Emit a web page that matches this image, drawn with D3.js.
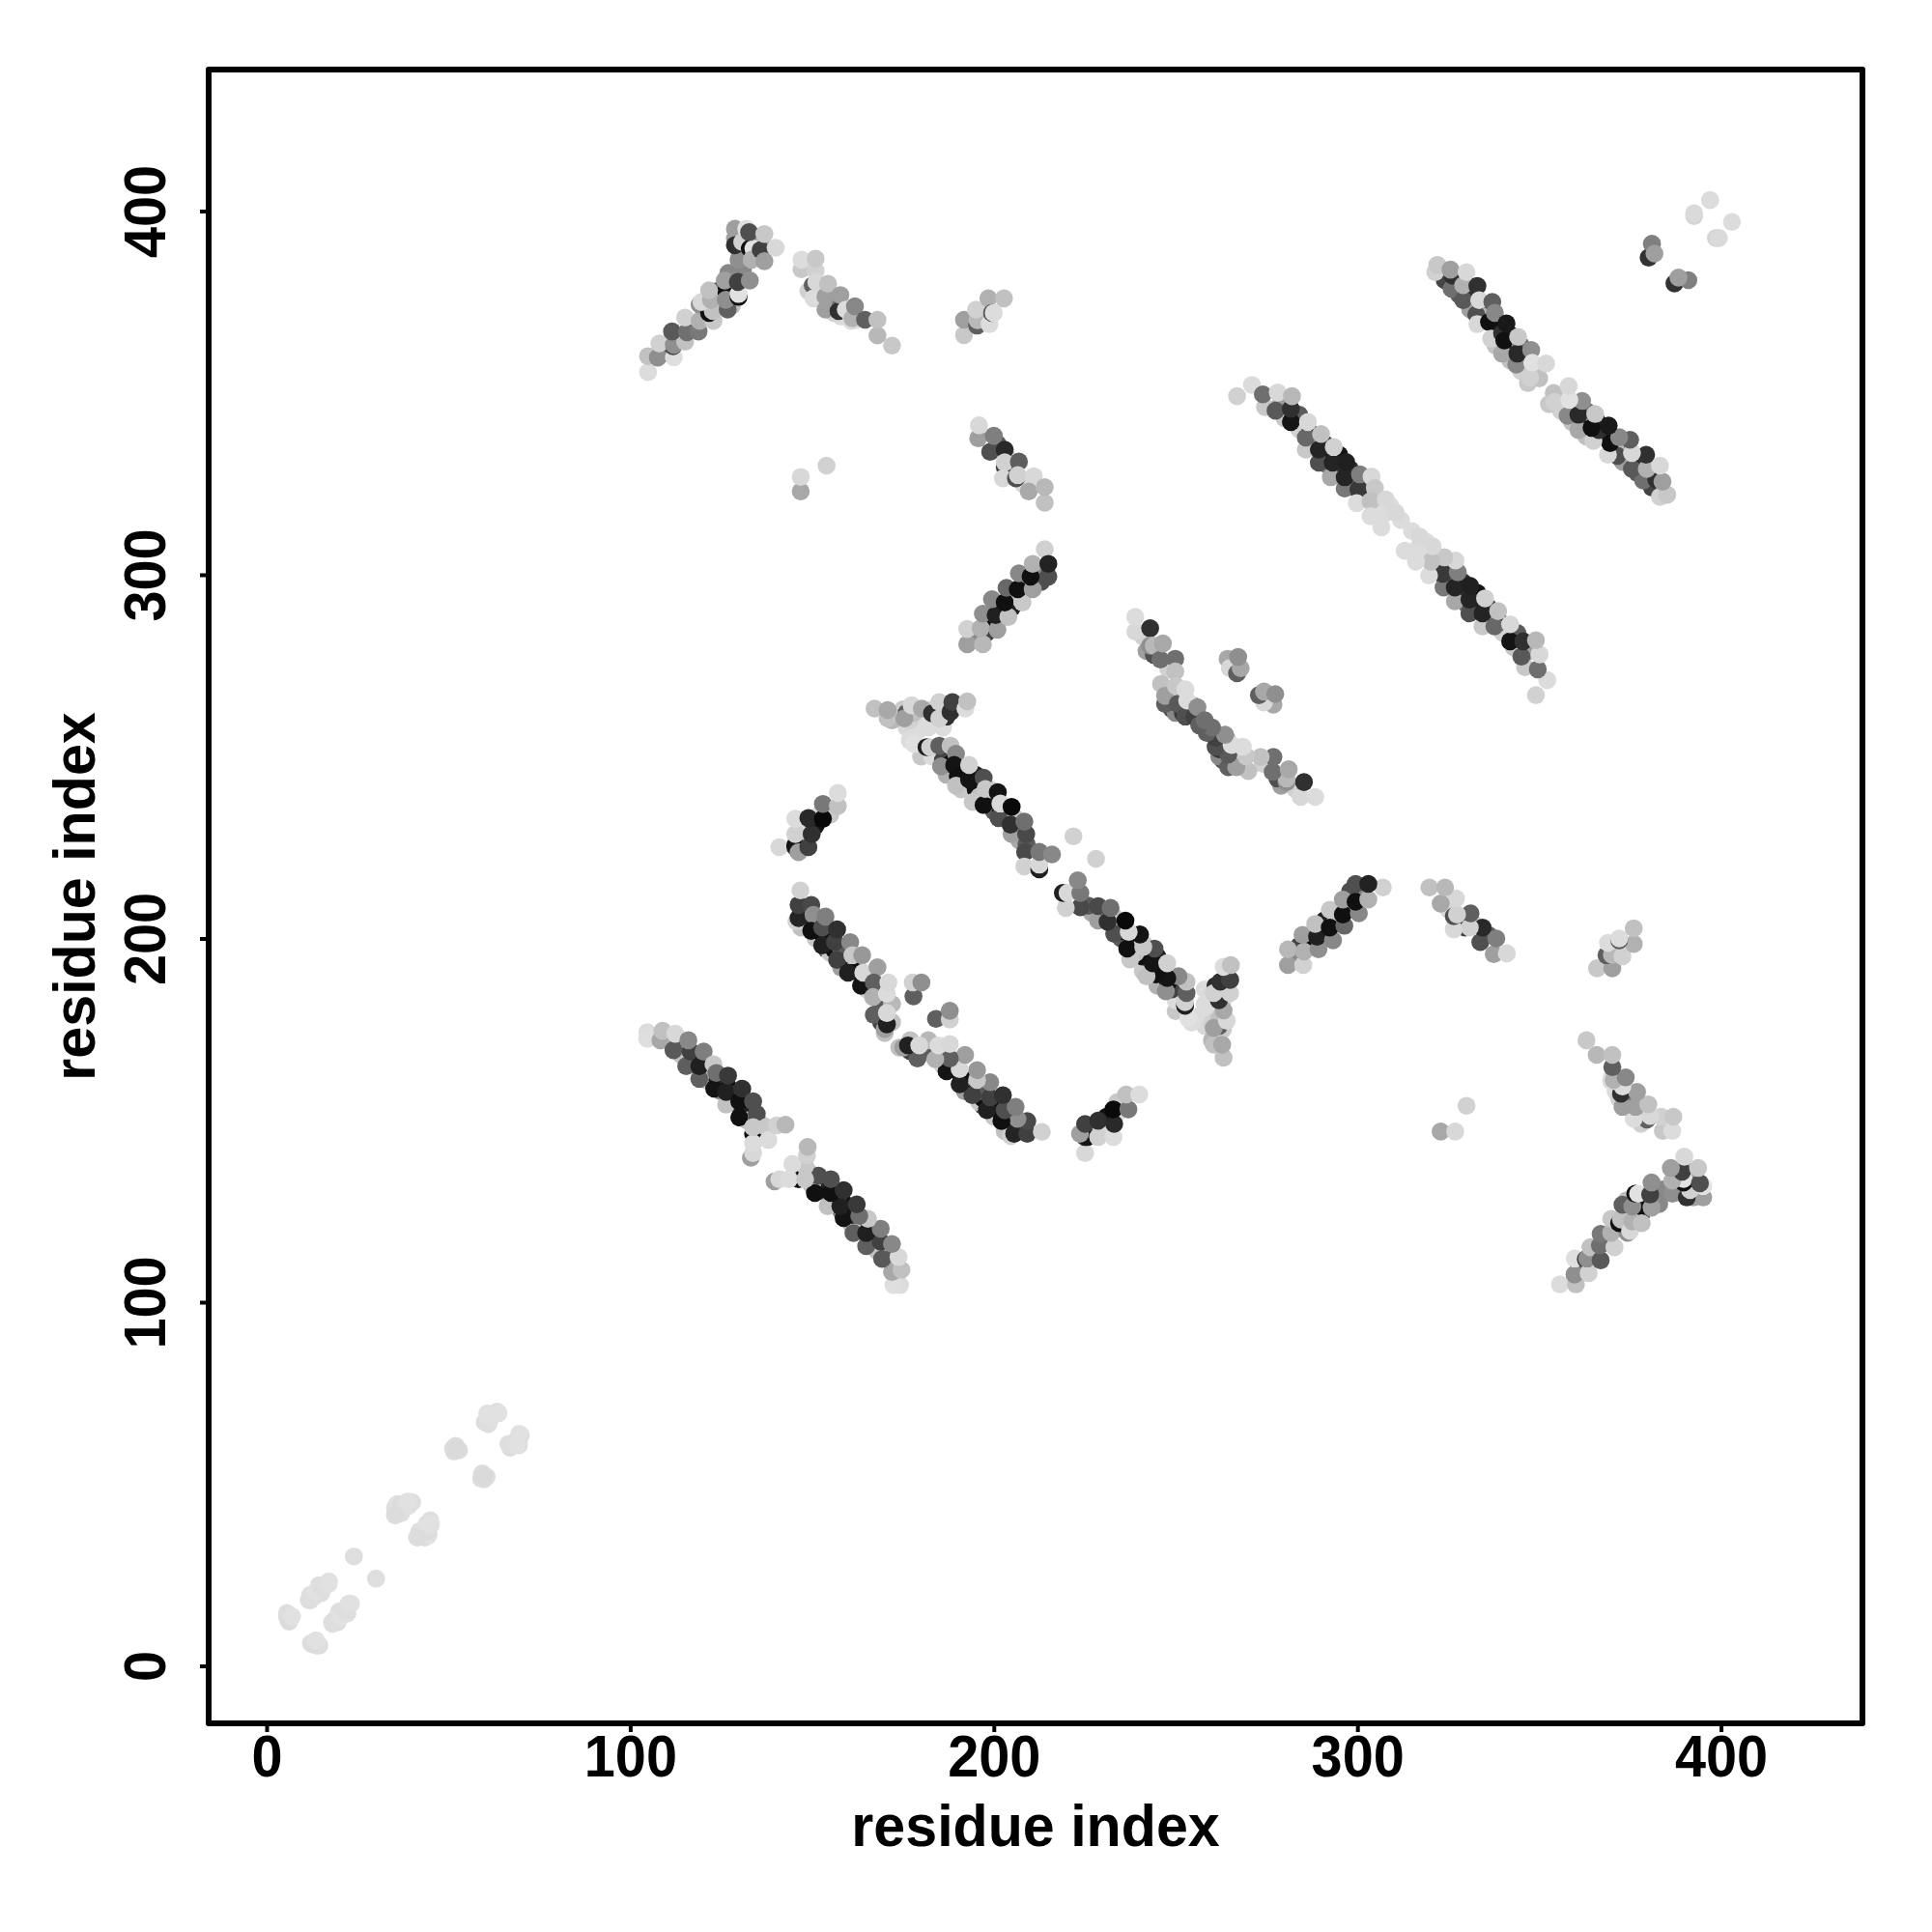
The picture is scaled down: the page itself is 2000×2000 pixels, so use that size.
<!DOCTYPE html>
<html>
  <head>
    <title>Residue contact map</title>
    <script src="https://d3js.org/d3.v7.min.js"></script>
    <style>
      body { margin: 0; background: #fff; }
      text { font-family: "Liberation Sans", Arial, sans-serif; font-weight: bold; fill: #000; }
    </style>
  </head>
  <body>
    <svg width="2000" height="2000"></svg>
    <script>
      // contacts as [residue i, residue j, strength 0-100], only the j > i half, the other half is mirrored
      const nearDiagonal = [
        [5.6,13.7,2],[5.6,14.5,2],[6.5,13,2],[6.2,12.2,3],[6,12.5,3],[7,13.6,1],
        [11.6,18.1,2],[12,19.5,2],[13,19,2],[13.3,20.1,1],[14.4,22.2,2],[14.9,21.2,2],[15,20,2],[16,22,2],[17.1,23.2,1],
        [12,18,2],[13.5,20.4,1],[15,21.5,2],[17.1,22.6,1],
        [24,30.1,2],
        [35.3,41.5,3],[35.3,43.5,2],[35.9,44.5,1],[36,42.5,2],[37,42,2],[37,43.5,2],[37,44.5,3],[38,44,2],[38.6,45,1],[39,44,1],[40,45,2],
        [35.4,41.4,3],[38.9,45.2,1],
        [51.3,59.8,3],[51.5,59,3],[51.8,59.6,3],[52,60.5,3],[52.9,59.3,3],[52.2,59.6,4],
        [60,67,3],[60.7,69.4,2],[60.7,67.4,2],[61,66.5,2],[61.8,68.4,1],[62,69,2],[63.4,69.9,3],[63.8,69.5,1],[60.8,68.9,1]
      ];
      // points that sit mostly hidden below the upper layer of each band
      const hiddenContacts = [
        [110,173,30],[113,170,60],[114,168,15],[117,166,70],[118,167,86],[121,163,86],[121,161,15],[124,161,86],
        [125,158,40],[127,159,93],[128,155,70],[129,157,12],[132,153,86],[132,150,15],[135,150,86],[136,149,10],
        [148,206,60],[147,203,15],[150,204,86],[151,200,12],[153,201,91],[154,197,70],[155,196,12],[156,197,93],
        [158,196,60],[158,192,30],[160,193,86],[161,191,8],[162,191,93],[165,188,70],[165,186,8],[166,190,60],
        [168,185,65],[169,181,60],[169,177,70],[172,182,19],[172,177,15],[170,174,15],
        [180,250,12],[183,250,3],[186,249,70],[187,245,22],[188,248,93],[191,245,79],[191,241,12],[192,246,8],
        [195,245,86],[195,241,93],[196,239,15],[199,238,86],[199,241,8],[200,235,60],[202,235,93],[203,234,50],
        [206,233,15],[206,230,40],[207,227,26],[209,226,60],[176,258,5],[178,260,26],[181,260,3],[174,262,3],
        [179,257,3],[182,258,3],[186,258,3],[172,260,20],[175,263,10],[176,262,60],[176.8,260,8],[178,262,15],
        [186,263,15],[187,261,80],[183,263,5],
        [241,283,8],[242,279,30],[244,278,65],[248,274,8],[246,270,15],[248,265,30],[249,263,65],[250,262,40],
        [251,266,8],[252,262,75],[254,262,50],[252,267,3],[255,264,26],
        [279,347,30],[280,343,12],[284,344,60],[284,340,8],[287,339,86],[288,336,40],[291,336,70],[291,332,86],
        [292,330,50],[295,333,91],[295,328,79],[298,329,80],[298,325,15],[299,324,60],[302,326,40],[302,323,60],
        [305,322,8],[305,318,3],[309,319,3],[312,315,3],
        [324,381,70],[327,380,30],[328,377,60],[331,378,79],[331,373,30],[334,373,86],[335,371,20],[338,370,93],
        [338,366,70],[338,363,15],[342,366,91],[341,361,79],[342,359,15],[345,363,50],[346,359,65],[345,356,8],
        [349,356,3],[350,354,15],
        [110,361,50],[117,369,30],[120,371,8],[123,373,86],[125,375,8],[128,374,15],[128,378,5],[124,378,70],
        [127,383,40],[131,384,40],[130,388,8],[134,391,5],[131,392,60],[136,391,30],
        [195,283,40],[198,284,70],[200,286,93],[202,288,8],[203,290,93],[201,291,15],[205,291,86],[205,294,15],
        [208,296,79],[208,298,8],[212,298,93],[212,301,40],[213,298,65],
        [147,226,60],[150,229,8],[151,231,91],[147,230,5],[148,227,15],[152,234,3],[155,234,12],
        [149,378,8],[152,378,3],[155,374,50],[158,371,3],[160,372,60],[162,370,3],[156,372,8],
        [201,336,60],[204,332,8],[205,329,79],[208,325,5]
      ];
      const bandA = [
        [104.7,174.2,3],[104.7,172.4,2],[108.3,172,26],[108.9,174.6,15],[111.9,169.3,61],[112.4,173.8,5],
        [115.4,164.9,58],[116.6,168.9,72],[116,172,40],[119,161.4,58],[119,164.9,86],[120.2,168.9,44],
        [122.9,165.4,12],[123.1,158.7,91],[123.7,163,51],[126.4,154.3,15],[126.4,157.8,86],[126.9,162.3,75],
        [130,155.2,93],[130,150.8,93],[130.8,158.7,79],[133.8,146.3,93],[133.8,155.2,65],[134.8,151.8,65],
        [133.2,139.7,30],[133.8,141,5],[133.8,143.7,3],[133.8,148.1,12],[137.4,148.1,12],[138,144.6,3],
        [140.3,148.6,8],[142.7,148.8,19]
      ];
      const bandB = [
        [145.7,204.7,8],[146.3,205.6,84],[146.3,209.2,72],[146.8,213.2,8],[149.8,209.2,68],[150.4,206.5,37],
        [149.8,202.1,93],[152.8,198.1,86],[152.8,203,65],[153.7,206,44],[156.3,199,72],[156.9,194.1,72],
        [156.9,202.5,79],[160.5,199,40],[159.9,190.6,86],[161.1,195.4,12],[163.5,187,91],[163.8,195.4,33],
        [164.1,190.6,5],[168,192.1,30],[167,187.9,58],[166.8,183.9,22],[167,179,58],[170,175.1,30],
        [170.6,176.4,86],[170.6,179.5,5],[170.6,184.8,3],[171,187.9,5],
        [177.9,184.1,58],[177.7,187.9,8],[180.1,187.9,37]
      ];
      const bandC = [
        [167.2,263.2,15],[170.8,260.5,15],[170.8,262.8,26],[175.4,260.5,30],[177.4,264.1,5],[176.9,254.4,3],
        [178,253.5,1],[180.2,263.2,26],[183,261.9,79],[185,265,8],[185,260.5,8],[188.1,262.3,79],
        [188.6,265,72],[192.2,263.2,3],[192.7,265.2,15],
        [181.5,252.6,86],[182.5,252.6,8],[185,253,58],[185.5,247.3,37],[188.1,253,15],[189.6,250.8,40],
        [189.1,247.7,91],[190.1,244.6,93],[189.6,242,15],[193.2,243.7,91],[193.2,247.7,8],[194.2,237.5,12],
        [197.2,236.7,93],[197.2,244.2,65],[197.7,241.1,12],[201.3,233.1,65],[201.1,240.2,91],[201.8,237.1,5],
        [204.9,228.7,30],[204.6,231.3,79],[204.9,236.2,96],[208.9,228.7,68],[208.4,232.1,51],[208.6,223.8,68],
        [208.4,219.8,8],[212.5,219,86],[212.5,220.3,5],[212.5,223.8,47],[216,223.1,40],[221.9,228.1,8]
      ];
      const bandD = [
        [238.9,284.4,5],[238.9,288.4,3],[243,285.3,79],[243,280.5,37],[244,280.5,19],[245.8,276.7,51],
        [246.5,281.1,26],[249.9,276.9,51],[249.9,273.4,15],[247.1,264.5,58],[247.1,266.7,30],[250.1,269.4,12],
        [250.6,264.5,61],[252.7,261,65],[252.7,268.5,3],[253.2,265.4,3],[255.2,261,72],[256,263.6,37],
        [256.5,258.6,58],[258,260,51]
      ];
      const bandE = [
        [264.3,276.9,26],[264.9,274.3,5],[266.9,272.9,58],[267.9,274.3,26],[267.2,277.4,37]
      ];
      const bandF = [
        [266.9,349.1,8],[271,352.2,3],[274.6,346.1,12],[274,349.6,51],[277.5,345.1,61],[278.1,350.1,5],
        [281.7,342,91],[281.7,345.6,79],[282,349.1,19],[285.8,334.4,12],[285.8,337.7,54],[286.4,342,5],
        [289.4,330.8,65],[289.4,334.4,84],[290,338.7,15],[292.7,326.8,26],[293.2,330.8,84],[293.5,335.1,8],
        [296.5,323.7,47],[296.5,326.8,84],[296.9,331,86],[300.3,323.5,75],[300.7,327.6,44],[303.9,327,5],
        [299.8,319.7,3],[304.8,323.9,12],[303.6,320.2,15],[303.6,316.1,3],[307.8,320.7,5],[306.6,313,3],
        [307.2,316.6,3],[310.5,317.1,5]
      ];
      const bandG = [
        [321.4,383.2,8],[322,385.2,12],[325.9,378.6,51],[326.2,382.2,79],[325.6,383.9,30],[329.1,375.5,61],
        [329.1,379.6,22],[330,383.2,5],[332.7,371.5,65],[333,368.9,5],[333,379.4,79],[333.5,375.5,5],
        [336.2,369.5,93],[336.8,364.9,8],[337.1,375,58],[337.8,372,40],[339.8,360.8,26],[339.8,366.4,79],
        [340.4,364.4,93],[341,369.1,89],[343.7,357.8,40],[344,360.8,82],[344.2,365.4,12],[346.9,352.7,12],
        [347.5,354.2,8],[347.8,361.8,37],[348.1,358.3,1],[351.9,358.1,5]
      ];
      const parallelA = [
        [104.9,355.7,3],[104.9,360.1,15],[107.6,359.7,37],[112,359.8,2],[111.8,362.8,72],[108,363.6,8],[112,363.2,37],
        [115.1,364.1,15],[111.5,366.9,61],[115.6,366.7,51],[118.8,366.9,47],[115.1,370.7,8],[119.1,369.8,22],
        [122.9,369.8,12],[119.1,374.3,37],[121.7,372,93],[122.7,372.5,15],[119.6,375,5],[126.8,372.9,58],
        [125.8,377.4,93],[122.2,375.6,22],[126.3,375.6,37],[121.7,378.2,15],[126,380.9,30],[129.8,376.4,93],
        [129.8,377.2,1],[129.6,380.5,72],[132.9,380.9,37],
        [129.8,386.6,37],[128.8,392.4,30],[128.8,395.1,30],[128.8,390.6,79],[130.8,391.5,8],[131.9,395.1,1],
        [132.9,389.7,93],[133.9,389.7,1],[133.4,386.6,22],[132.7,394.2,65],[135.9,389.3,72],[136.9,386.2,30],
        [136.9,393.7,12],[140,389.9,5]
      ];
      const antiA = [
        [147.1,384,12],[147.1,386.6,3],[151,383.6,8],[151,386.9,12],[150.2,379.6,58],[150.4,376,3],[151.2,380.5,5],
        [153.7,372.9,30],[153.7,376.5,30],[154.4,380,15],[157.3,372.5,79],[157.8,376.9,30],[159.3,372.9,3],
        [160.8,369.8,3],[161.1,370.5,22],[161.8,373.8,40],[164.6,370.1,58],[168,365.8,19],[168,370.1,15],
        [172,363,12]
      ];
      const smallD = [
        [191.8,365.9,12],[191.8,370.1,30],[195.4,368.5,58],[195.5,370,19],[195.1,372.9,8],[198.8,368.9,3],
        [198.5,376,22],[199.5,372,61],[200,372,3],[202.8,376,15]
      ];
      const smallE = [[146.9,322.9,26],[146.9,326.9,5],[154,330,8]];
      const antiF = [
        [195.7,337.5,30],[195.9,341.1,5],[199,333.8,65],[200,338.2,44],[203,329.6,72],[203,334.4,82],
        [203,330.9,8],[206.9,331.1,58],[202.5,326.5,5],[206.1,326.5,65],[206.6,327.4,8],[211,327.1,5],
        [209.6,322.9,26],[214,319.8,15],[214,324.1,19]
      ];
      const parallelG = [
        [192.7,280.9,30],[197,280.9,19],[192.7,285.1,8],[196.4,285.3,22],[201,284.9,30],[197,289.3,37],
        [200.5,288.9,86],[204,288.4,15],[199.5,293.3,40],[203,292.4,93],[207.9,292.4,12],[203.5,296.4,54],
        [206.6,296,93],[210.7,296,30],[206.9,300.4,40],[210.1,299.5,93],[215,299.5,65],[210.7,303,22],
        [214,307,8],[215,303,85]
      ];
      const parallelH = [
        [141,225.1,5],[145.4,225.1,79],[145.4,225.7,91],[146.3,223.7,30],[145.4,228.7,8],[149,225.1,72],
        [149.9,228.7,79],[145.4,232.9,3],[149,233.1,82],[153,232.9,96],[153,237,47],[157.1,236.4,15],[157.1,240,3]
      ];
      const cornerI = [
        [380.1,387.2,78],[381,391,44],[381.7,388.3,30],[392.6,398.6,6],[392.6,399.4,4],[397,403,3]
      ];

      const contactGroups = [hiddenContacts, nearDiagonal, bandA, bandB, bandC, bandD, bandE, bandF, bandG,
        parallelA, antiA, smallD, smallE, antiF, parallelG, parallelH, cornerI];
      const tickValues = [0, 100, 200, 300, 400];
      const axisTitle = "residue index";

      const svg = d3.select("svg");
      const plot = {left: 216, right: 1928, top: 72, bottom: 1784};

      const xScale = d3.scaleLinear().domain([-15.94, 438.9]).range([plot.left, plot.right]);
      const yScale = d3.scaleLinear().domain([-15.8, 438.9]).range([plot.bottom, plot.top]);
      const greyScale = d3.scaleLinear().domain([0, 100]).range(["#e3e3e3", "#000000"]);

      const contacts = [];
      contactGroups.forEach(group => {
        group.forEach(d => contacts.push({i: d[1], j: d[0], s: d[2]}));
        group.forEach(d => contacts.push({i: d[0], j: d[1], s: d[2]}));
      });

      svg.append("g").selectAll("circle")
        .data(contacts)
        .enter().append("circle")
          .attr("cx", d => xScale(d.i))
          .attr("cy", d => yScale(d.j))
          .attr("r", 9.3)
          .attr("fill", d => greyScale(d.s));

      const xAxis = d3.axisBottom(xScale).tickValues(tickValues).tickSize(9).tickFormat(d3.format("d"));
      const yAxis = d3.axisLeft(yScale).tickValues(tickValues).tickSize(9).tickFormat(d3.format("d"));

      const xG = svg.append("g").attr("transform", `translate(0, ${plot.bottom})`).call(xAxis);
      const yG = svg.append("g").attr("transform", `translate(${plot.left}, 0)`).call(yAxis);
      [xG, yG].forEach(g => {
        g.select(".domain").remove();
        g.selectAll("line").attr("stroke", "#000").attr("stroke-width", 4);
        g.selectAll("text").attr("font-size", 61);
        g.attr("font-family", null).attr("font-size", null);
      });
      // the tick digits are a little narrower than the font draws them
      xG.selectAll("text").attr("x", 0).attr("y", 0).attr("dy", 0)
        .attr("transform", "translate(0, 55) scale(0.945, 1)");
      yG.selectAll("text")
        .attr("x", 0).attr("dy", 0)
        .attr("text-anchor", "middle")
        .attr("transform", "translate(-45, 0) rotate(-90) scale(0.945, 1)");

      svg.append("rect")
        .attr("x", plot.left).attr("y", plot.top)
        .attr("width", plot.right - plot.left).attr("height", plot.bottom - plot.top)
        .attr("fill", "none")
        .attr("stroke", "#000").attr("stroke-width", 6)
        .attr("stroke-linejoin", "round");

      svg.append("text")
        .attr("transform", `translate(${(plot.left + plot.right) / 2}, 1911) scale(0.97, 1)`)
        .attr("text-anchor", "middle")
        .attr("font-size", 61)
        .text(axisTitle);
      svg.append("text")
        .attr("transform", `translate(98, ${(plot.top + plot.bottom) / 2}) rotate(-90) scale(0.97, 1)`)
        .attr("text-anchor", "middle")
        .attr("font-size", 61)
        .text(axisTitle);
    </script>
  </body>
</html>
